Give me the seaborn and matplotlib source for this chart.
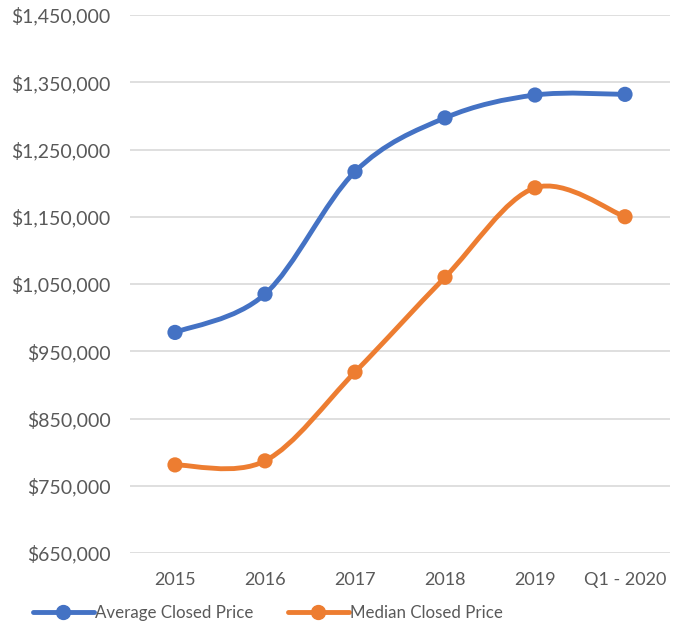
import seaborn as sns
import matplotlib.pyplot as plt
import pandas as pd
from matplotlib.path import Path
from matplotlib.patches import PathPatch
from matplotlib.lines import Line2D
from matplotlib.ticker import FuncFormatter

periodos = ["2015", "2016", "2017", "2018", "2019", "Q1 - 2020"]
precio_promedio = [978000, 1035000, 1217000, 1297000, 1331000, 1332000]
precio_mediana = [781000, 787000, 919000, 1060000, 1193000, 1150000]

series = {
    "Average Closed Price": (precio_promedio, "#4472C4"),
    "Median Closed Price": (precio_mediana, "#ED7D31"),
}

sns.set_theme(style="white")
plt.rcParams['font.family'] = ['Lato', 'DejaVu Sans']

texto = "#595959"


def curva_suave(xs, ys):
    # curva tipo excel (catmull-rom pasada a bezier)
    verts = [(xs[0], ys[0])]
    codes = [Path.MOVETO]
    n = len(xs)
    for i in range(n - 1):
        x0, y0 = (xs[i - 1], ys[i - 1]) if i > 0 else (xs[i], ys[i])
        x1, y1 = xs[i], ys[i]
        x2, y2 = xs[i + 1], ys[i + 1]
        x3, y3 = (xs[i + 2], ys[i + 2]) if i + 2 < n else (x2, y2)
        c1 = (x1 + (x2 - x0) / 6, y1 + (y2 - y0) / 6)
        c2 = (x2 - (x3 - x1) / 6, y2 - (y3 - y1) / 6)
        verts += [c1, c2, (x2, y2)]
        codes += [Path.CURVE4] * 3
    return Path(verts, codes)


fig = plt.figure(figsize=(6.87, 6.27), dpi=100)
ax = fig.add_axes([130 / 687, 1 - 553 / 627, 540 / 687, 538 / 627])

filas = []
for nombre, (valores, color) in series.items():
    for p, v in zip(periodos, valores):
        filas.append({"Periodo": p, "Precio": v, "Serie": nombre})
df = pd.DataFrame(filas)

for nombre, (valores, color) in series.items():
    xs = list(range(len(periodos)))
    ax.add_patch(PathPatch(curva_suave(xs, valores), facecolor="none",
                           edgecolor=color, lw=3.5, capstyle="round", zorder=3))

sns.scatterplot(data=df, x="Periodo", y="Precio", hue="Serie",
                palette={k: c for k, (_, c) in series.items()},
                s=120, edgecolor="none", legend=False, ax=ax, zorder=4)

ax.set_xlim(-0.5, len(periodos) - 0.5)
ax.set_ylim(650000, 1450000)
ax.set_yticks(range(650000, 1450001, 100000))
ax.yaxis.set_major_formatter(FuncFormatter(lambda v, _: f"${v:,.0f}"))
ax.yaxis.grid(True, color="#D9D9D9", lw=1.2)
ax.set_axisbelow(True)
for s in ax.spines.values():
    s.set_visible(False)
ax.set_xlabel("")
ax.set_ylabel("")
ax.tick_params(axis="both", length=0, labelcolor=texto)
ax.tick_params(axis="y", pad=14, labelsize=14)
ax.tick_params(axis="x", pad=14, labelsize=13)

manejadores = [Line2D([0], [0], color=c, lw=3.5, marker="o", markersize=10)
               for _, (_, c) in series.items()]
fig.legend(manejadores, list(series.keys()), loc="center", ncol=2,
           bbox_to_anchor=(0.39, 1 - 613 / 627), frameon=False,
           fontsize=12.2, labelcolor=texto, handlelength=3.6,
           handletextpad=0.1, columnspacing=2.0)

fig.savefig("out.png", dpi=100)
